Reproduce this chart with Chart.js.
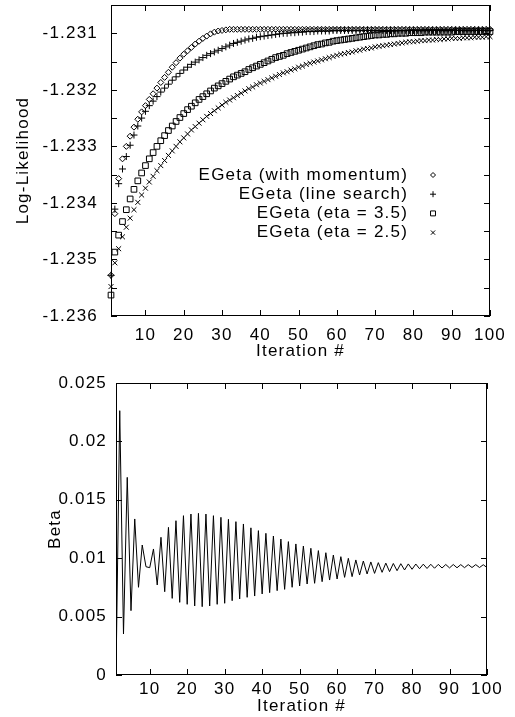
<!DOCTYPE html>
<html lang="en">
<head>
  <meta charset="UTF-8">
  <title>EGeta - Log-Likelihood e Beta</title>
  <script src="https://cdn.jsdelivr.net/npm/chart.js"></script>
  <style>
    body { margin: 0; background: #fff; }
    #wrap { position: relative; width: 515px; height: 717px; overflow: hidden; }
    #grafico-ll { position: absolute; left: 0; top: 0; }
    #grafico-beta { position: absolute; left: 0; top: 370px; }
  </style>
</head>
<body>
  <div id="wrap">
    <canvas id="grafico-ll" width="515" height="362"></canvas>
    <canvas id="grafico-beta" width="515" height="347"></canvas>
  </div>

  <script>
    // iterations 1..100 (x axis of both plots)
    const iterations = Array.from({ length: 100 }, (_, i) => i + 1);

    const seriesNames = ['EGeta (with momentum)', 'EGeta (line search)', 'EGeta (eta = 3.5)', 'EGeta (eta = 2.5)'];

    const llMomentum = [
      -1.23528, -1.23419, -1.23357, -1.23322, -1.23300, -1.23282, -1.23266, -1.23252, -1.23239, -1.23228,
      -1.23217, -1.23207, -1.23197, -1.23187, -1.23178, -1.23169, -1.23160, -1.23152, -1.23144, -1.23137,
      -1.23131, -1.23125, -1.23119, -1.23114, -1.23109, -1.23105, -1.23101, -1.23098, -1.23096, -1.23095,
      -1.23094, -1.23093, -1.23093, -1.23093, -1.23093, -1.23093, -1.23093, -1.23093, -1.23093, -1.23093,
      -1.23093, -1.23093, -1.23093, -1.23093, -1.23093, -1.23093, -1.23093, -1.23093, -1.23093, -1.23093,
      -1.23093, -1.23093, -1.23093, -1.23093, -1.23093, -1.23093, -1.23093, -1.23093, -1.23093, -1.23093,
      -1.23093, -1.23093, -1.23093, -1.23093, -1.23093, -1.23093, -1.23093, -1.23093, -1.23093, -1.23093,
      -1.23093, -1.23093, -1.23093, -1.23093, -1.23093, -1.23093, -1.23093, -1.23093, -1.23093, -1.23093,
      -1.23093, -1.23093, -1.23093, -1.23093, -1.23093, -1.23093, -1.23093, -1.23093, -1.23093, -1.23093,
      -1.23093, -1.23093, -1.23093, -1.23093, -1.23093, -1.23093, -1.23093, -1.23093, -1.23093, -1.23093
    ];

    const llLineSearch = [
      -1.23528, -1.23411, -1.23366, -1.23340, -1.23318, -1.23298, -1.23280, -1.23264, -1.23250, -1.23238,
      -1.23228, -1.23220, -1.23212, -1.23204, -1.23197, -1.23190, -1.23183, -1.23177, -1.23171, -1.23165,
      -1.23160, -1.23155, -1.23151, -1.23147, -1.23143, -1.23139, -1.23136, -1.23133, -1.23130, -1.23127,
      -1.23124, -1.23121, -1.23118, -1.23116, -1.23114, -1.23112, -1.23110, -1.23109, -1.23107, -1.23106,
      -1.23105, -1.23104, -1.23103, -1.23102, -1.23101, -1.23100, -1.23100, -1.23099, -1.23099, -1.23098,
      -1.23098, -1.23097, -1.23097, -1.23097, -1.23096, -1.23096, -1.23096, -1.23096, -1.23095, -1.23095,
      -1.23095, -1.23095, -1.23095, -1.23095, -1.23095, -1.23095, -1.23095, -1.23095, -1.23095, -1.23095,
      -1.23095, -1.23095, -1.23095, -1.23095, -1.23095, -1.23095, -1.23095, -1.23095, -1.23095, -1.23095,
      -1.23095, -1.23095, -1.23095, -1.23095, -1.23095, -1.23095, -1.23095, -1.23095, -1.23095, -1.23095,
      -1.23095, -1.23095, -1.23095, -1.23095, -1.23095, -1.23095, -1.23095, -1.23095, -1.23095, -1.23095
    ];

    const llEta35 = [
      -1.23563, -1.23487, -1.23457, -1.23433, -1.23412, -1.23393, -1.23376, -1.23361, -1.23347, -1.23334,
      -1.23322, -1.23311, -1.23300, -1.23290, -1.23281, -1.23272, -1.23264, -1.23256, -1.23249, -1.23242,
      -1.23235, -1.23229, -1.23223, -1.23217, -1.23212, -1.23207, -1.23202, -1.23197, -1.23193, -1.23189,
      -1.23185, -1.23181, -1.23177, -1.23174, -1.23171, -1.23168, -1.23164, -1.23161, -1.23158, -1.23155,
      -1.23152, -1.23149, -1.23146, -1.23143, -1.23141, -1.23139, -1.23136, -1.23134, -1.23132, -1.23130,
      -1.23128, -1.23126, -1.23124, -1.23122, -1.23120, -1.23119, -1.23117, -1.23116, -1.23114, -1.23113,
      -1.23112, -1.23111, -1.23110, -1.23109, -1.23108, -1.23107, -1.23106, -1.23105, -1.23104, -1.23103,
      -1.23103, -1.23102, -1.23102, -1.23101, -1.23101, -1.23100, -1.23100, -1.23100, -1.23099, -1.23099,
      -1.23099, -1.23099, -1.23098, -1.23098, -1.23098, -1.23098, -1.23098, -1.23098, -1.23098, -1.23098,
      -1.23097, -1.23097, -1.23097, -1.23097, -1.23097, -1.23097, -1.23097, -1.23097, -1.23097, -1.23097
    ];

    const llEta25 = [
      -1.23548, -1.23506, -1.23481, -1.23460, -1.23443, -1.23427, -1.23412, -1.23399, -1.23386, -1.23374,
      -1.23363, -1.23353, -1.23343, -1.23334, -1.23325, -1.23316, -1.23308, -1.23300, -1.23292, -1.23285,
      -1.23278, -1.23271, -1.23265, -1.23259, -1.23253, -1.23247, -1.23242, -1.23237, -1.23232, -1.23227,
      -1.23222, -1.23218, -1.23214, -1.23210, -1.23206, -1.23202, -1.23198, -1.23195, -1.23191, -1.23188,
      -1.23185, -1.23182, -1.23179, -1.23176, -1.23173, -1.23170, -1.23168, -1.23165, -1.23163, -1.23160,
      -1.23158, -1.23155, -1.23153, -1.23151, -1.23149, -1.23147, -1.23145, -1.23143, -1.23141, -1.23139,
      -1.23137, -1.23136, -1.23134, -1.23133, -1.23131, -1.23130, -1.23128, -1.23127, -1.23126, -1.23124,
      -1.23123, -1.23122, -1.23121, -1.23120, -1.23119, -1.23118, -1.23117, -1.23116, -1.23115, -1.23115,
      -1.23114, -1.23113, -1.23113, -1.23112, -1.23112, -1.23111, -1.23111, -1.23110, -1.23110, -1.23109,
      -1.23109, -1.23109, -1.23108, -1.23108, -1.23108, -1.23107, -1.23107, -1.23107, -1.23106, -1.23106
    ];

    const beta = [
      0.0, 0.02263, 0.00351, 0.01692, 0.00551, 0.01336, 0.00751, 0.01113, 0.00927, 0.00919,
      0.01079, 0.00771, 0.01179, 0.00713, 0.01264, 0.00656, 0.01321, 0.00622, 0.01364, 0.00605,
      0.01378, 0.00591, 0.01384, 0.00585, 0.01378, 0.00591, 0.01364, 0.00605, 0.01350, 0.00614,
      0.01333, 0.00636, 0.01313, 0.00651, 0.01293, 0.00665, 0.01260, 0.00676, 0.01236, 0.00694,
      0.01213, 0.00705, 0.01190, 0.00722, 0.01164, 0.00733, 0.01142, 0.00751, 0.01122, 0.00762,
      0.01104, 0.00779, 0.01085, 0.00785, 0.01065, 0.00799, 0.01047, 0.00813, 0.01027, 0.00822,
      0.01013, 0.00836, 0.00999, 0.00842, 0.00985, 0.00856, 0.00976, 0.00865, 0.00968, 0.00870,
      0.00962, 0.00879, 0.00958, 0.00885, 0.00955, 0.00893, 0.00953, 0.00899, 0.00951, 0.00905,
      0.00950, 0.00910, 0.00949, 0.00912, 0.00948, 0.00914, 0.00947, 0.00916, 0.00946, 0.00917,
      0.00946, 0.00918, 0.00945, 0.00919, 0.00945, 0.00920, 0.00945, 0.00920, 0.00944, 0.00920
    ];

    const llTickLabels = [-1.236, -1.235, -1.234, -1.233, -1.232, -1.231];
    const betaTickLabels = [0, 0.005, 0.01, 0.015, 0.02, 0.025];
    const iterTickLabels = [10, 20, 30, 40, 50, 60, 70, 80, 90, 100];

    const FONT = '"Liberation Sans", Arial, Helvetica, sans-serif';
    Chart.defaults.font.family = FONT;
    Chart.defaults.font.size = 17;
    Chart.defaults.color = '#000';

    // the original lettering is a bit wider than Liberation Sans
    const wideText = {
      id: 'wideText',
      beforeLayout(chart) { chart.ctx.letterSpacing = '1.2px'; },
      beforeDraw(chart) { chart.ctx.letterSpacing = '1.2px'; }
    };

    // gnuplot style: closed frame with inward ticks on all four sides
    const frameTicks = {
      id: 'frameTicks',
      afterDatasetsDraw(chart, args, opts) {
        const { ctx, chartArea: a, scales } = chart;
        const len = 6;
        ctx.save();
        ctx.strokeStyle = '#000';
        ctx.lineWidth = 1;
        ctx.strokeRect(Math.round(a.left) + 0.5, Math.round(a.top) + 0.5,
          Math.round(a.right - a.left) - 1, Math.round(a.bottom - a.top) - 1);
        ctx.beginPath();
        const xs = scales.x, ys = scales.y;
        for (let k = Math.ceil(xs.min / opts.xStep - 1e-6); k * opts.xStep <= xs.max + 1e-9; k++) {
          const px = Math.round(xs.getPixelForValue(k * opts.xStep)) + 0.5;
          ctx.moveTo(px, a.bottom); ctx.lineTo(px, a.bottom - len);
          ctx.moveTo(px, a.top); ctx.lineTo(px, a.top + len);
        }
        for (let k = Math.ceil(ys.min / opts.yStep - 1e-6); k * opts.yStep <= ys.max + 1e-9; k++) {
          const py = Math.round(ys.getPixelForValue(k * opts.yStep)) + 0.5;
          ctx.moveTo(a.left, py); ctx.lineTo(a.left + len, py);
          ctx.moveTo(a.right, py); ctx.lineTo(a.right - len, py);
        }
        ctx.stroke();
        ctx.restore();
      }
    };

    // key placed inside the plot, text right-aligned with the marker after it
    const innerLegend = {
      id: 'innerLegend',
      afterDatasetsDraw(chart, args, opts) {
        const { ctx, chartArea: a } = chart;
        ctx.save();
        ctx.font = '17px ' + FONT;
        ctx.textAlign = 'right';
        ctx.textBaseline = 'middle';
        chart.data.datasets.forEach((ds, i) => {
          const y = a.top + opts.top + i * opts.rowHeight;
          ctx.fillStyle = '#000';
          ctx.fillText(ds.label, a.right - opts.textRight, y);
          ctx.strokeStyle = '#000';
          ctx.fillStyle = 'rgba(0,0,0,0)';
          ctx.lineWidth = 1;
          Chart.helpers.drawPoint(ctx, { pointStyle: ds.pointStyle, radius: ds.pointRadius - 0.5, rotation: 0, borderWidth: 1 },
            a.right - opts.markerRight, y);
        });
        ctx.restore();
      }
    };

    function keepTicks(values) {
      return scale => {
        scale.ticks = scale.ticks.filter(t => values.some(v => Math.abs(v - t.value) < 1e-7));
      };
    }

    // ---- top plot: log-likelihood ----
    const llSeries = [llMomentum, llLineSearch, llEta35, llEta25];
    const llStyles = [
      { pointStyle: 'rectRot', pointRadius: 3 },
      { pointStyle: 'cross', pointRadius: 3.5 },
      { pointStyle: 'rect', pointRadius: 4 },
      { pointStyle: 'crossRot', pointRadius: 3.5 }
    ];

    new Chart(document.getElementById('grafico-ll'), {
      type: 'scatter',
      data: {
        datasets: llSeries.map((vals, s) => ({
          label: seriesNames[s],
          data: iterations.map((x, i) => ({ x: x, y: vals[i] })),
          pointStyle: llStyles[s].pointStyle,
          pointRadius: llStyles[s].pointRadius,
          borderColor: '#000',
          backgroundColor: 'rgba(0,0,0,0)',
          borderWidth: 1,
          showLine: false,
          clip: false
        }))
      },
      options: {
        responsive: false,
        animation: false,
        layout: { padding: { top: 5, right: 15, left: 0, bottom: 0 } },
        plugins: {
          legend: { display: false },
          tooltip: { enabled: false },
          frameTicks: { xStep: 10, yStep: 0.0005 },
          innerLegend: { top: 170, rowHeight: 19.2, textRight: 82, markerRight: 57 }
        },
        scales: {
          x: {
            type: 'linear', min: 1, max: 100,
            grid: { display: false, drawTicks: false },
            border: { display: false },
            ticks: { stepSize: 10, padding: 9, maxRotation: 0, autoSkip: false },
            afterBuildTicks: keepTicks(iterTickLabels),
            afterFit: s => { s.height = 46; },
            title: { display: true, text: 'Iteration #', padding: { top: 0, bottom: 0 } }
          },
          y: {
            min: -1.236, max: -1.2305,
            grid: { display: false, drawTicks: false },
            border: { display: false },
            ticks: { stepSize: 0.001, padding: 13, autoSkip: false, callback: v => v.toFixed(3) },
            afterBuildTicks: keepTicks(llTickLabels),
            afterFit: s => { s.width = 111; s.paddingTop = 0; s.paddingBottom = 0; },
            title: { display: true, text: 'Log-Likelihood', padding: { top: 13, bottom: 0 } }
          }
        }
      },
      plugins: [wideText, frameTicks, innerLegend]
    });

    // ---- bottom plot: beta ----
    new Chart(document.getElementById('grafico-beta'), {
      type: 'line',
      data: {
        datasets: [{
          label: 'Beta',
          data: iterations.map((x, i) => ({ x: x, y: beta[i] })),
          borderColor: '#000',
          borderWidth: 1,
          pointRadius: 0,
          tension: 0,
          fill: false
        }]
      },
      options: {
        responsive: false,
        animation: false,
        layout: { padding: { top: 13, right: 28, left: 0, bottom: 0 } },
        plugins: {
          legend: { display: false },
          tooltip: { enabled: false },
          frameTicks: { xStep: 10, yStep: 0.005 }
        },
        scales: {
          x: {
            type: 'linear', min: 1, max: 100,
            grid: { display: false, drawTicks: false },
            border: { display: false },
            ticks: { stepSize: 10, padding: 4, maxRotation: 0, autoSkip: false },
            afterBuildTicks: keepTicks(iterTickLabels),
            afterFit: s => { s.height = 42; },
            title: { display: true, text: 'Iteration #', padding: { top: 0, bottom: 0 } }
          },
          y: {
            min: 0, max: 0.025,
            grid: { display: false, drawTicks: false },
            border: { display: false },
            ticks: { stepSize: 0.005, padding: 9, autoSkip: false, callback: v => String(parseFloat(v.toFixed(3))) },
            afterBuildTicks: keepTicks(betaTickLabels),
            afterFit: s => { s.width = 116; s.paddingTop = 0; s.paddingBottom = 0; },
            title: { display: true, text: 'Beta', padding: { top: 45, bottom: 0 } }
          }
        }
      },
      plugins: [wideText, frameTicks]
    });
  </script>
</body>
</html>
